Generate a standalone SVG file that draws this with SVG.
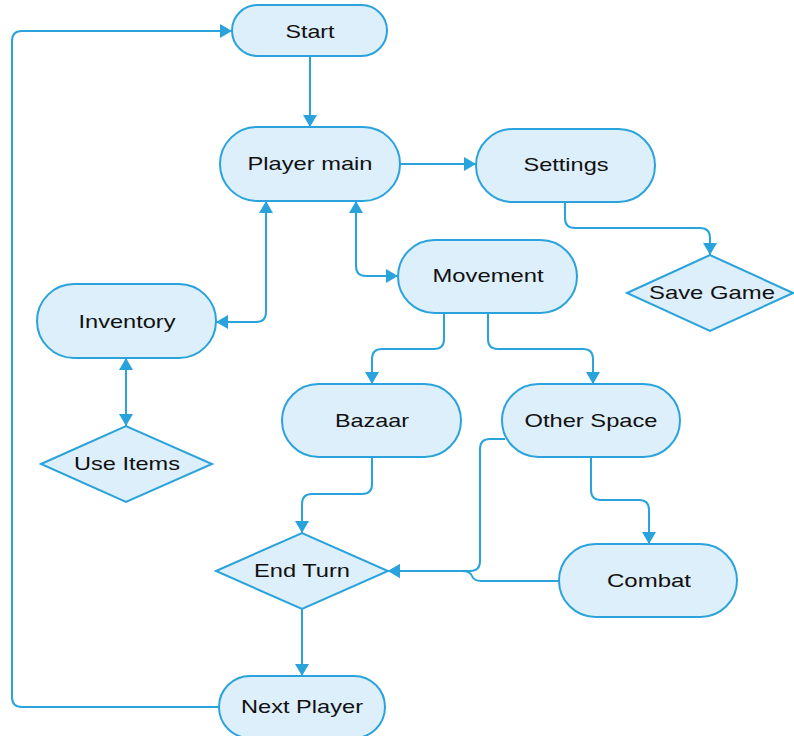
<svg xmlns="http://www.w3.org/2000/svg" width="794" height="736" viewBox="0 0 794 736">
  <style>
    .node { fill: #ddeffa; stroke: #2aa3dc; stroke-width: 2; }
    .edge { fill: none; stroke: #2aa3dc; stroke-width: 2; }
    .label { font-family: "Liberation Sans", Arial, sans-serif; font-size: 19px; fill: #111; text-anchor: middle; }
  </style>
  <defs>
    <marker id="arrow" viewBox="0 0 12 14" refX="12" refY="7" markerWidth="12" markerHeight="14" markerUnits="userSpaceOnUse" orient="auto-start-reverse">
      <path d="M0,0 L12,7 L0,14 z" fill="#2aa3dc"/>
    </marker>
  </defs>
  <rect width="794" height="736" fill="#ffffff"/>

  <g id="connectors">
    <path class="edge" d="M310,56 V127" marker-end="url(#arrow)"/>
    <path class="edge" d="M400,164 H476" marker-end="url(#arrow)"/>
    <path class="edge" d="M565,202 V218 Q565,228 575,228 H700 Q710,228 710,238 V255" marker-end="url(#arrow)"/>
    <path class="edge" d="M356,201 V266 Q356,276 366,276 H398" marker-start="url(#arrow)" marker-end="url(#arrow)"/>
    <path class="edge" d="M266,201 V312 Q266,322 256,322 H216" marker-start="url(#arrow)" marker-end="url(#arrow)"/>
    <path class="edge" d="M126,358 V426" marker-start="url(#arrow)" marker-end="url(#arrow)"/>
    <path class="edge" d="M444,313 V339 Q444,349 434,349 H382 Q372,349 372,359 V384" marker-end="url(#arrow)"/>
    <path class="edge" d="M488,313 V339 Q488,349 498,349 H583 Q593,349 593,359 V384" marker-end="url(#arrow)"/>
    <path class="edge" d="M372,457 V484 Q372,494 362,494 H312 Q302,494 302,504 V533" marker-end="url(#arrow)"/>
    <path class="edge" d="M505,439 H490 Q480,439 480,449 V561 Q480,571 470,571 H388" marker-end="url(#arrow)"/>
    <path class="edge" d="M591,457 V490 Q591,500 601,500 H639 Q649,500 649,510 V544" marker-end="url(#arrow)"/>
    <path class="edge" d="M559,581 H481 Q474,581 472,576 Q470,571 462,571 H388" marker-end="url(#arrow)"/>
    <path class="edge" d="M302,609 V676" marker-end="url(#arrow)"/>
    <path class="edge" d="M219,707 H22 Q12,707 12,697 V41 Q12,31 22,31 H232" marker-end="url(#arrow)"/>
  </g>

  <g id="start">
    <rect class="node" x="232" y="5" width="155" height="51" rx="25.5"/>
    <text class="label" x="310" y="38" textLength="49" lengthAdjust="spacingAndGlyphs">Start</text>
  </g>
  <g id="player-main">
    <rect class="node" x="220" y="127" width="180" height="74" rx="37"/>
    <text class="label" x="310" y="170" textLength="125" lengthAdjust="spacingAndGlyphs">Player main</text>
  </g>
  <g id="settings">
    <rect class="node" x="476" y="129" width="179" height="73" rx="36.5"/>
    <text class="label" x="566" y="171" textLength="85" lengthAdjust="spacingAndGlyphs">Settings</text>
  </g>
  <g id="save-game">
    <polygon class="node" points="627,293 710,255 793,293 710,331"/>
    <text class="label" x="712" y="299" textLength="126" lengthAdjust="spacingAndGlyphs">Save Game</text>
  </g>
  <g id="movement">
    <rect class="node" x="398" y="240" width="179" height="73" rx="36.5"/>
    <text class="label" x="488" y="282" textLength="111" lengthAdjust="spacingAndGlyphs">Movement</text>
  </g>
  <g id="inventory">
    <rect class="node" x="37" y="284" width="179" height="74" rx="37"/>
    <text class="label" x="127" y="328" textLength="97" lengthAdjust="spacingAndGlyphs">Inventory</text>
  </g>
  <g id="use-items">
    <polygon class="node" points="41,464 126,426 212,464 126,502"/>
    <text class="label" x="127" y="470" textLength="106" lengthAdjust="spacingAndGlyphs">Use Items</text>
  </g>
  <g id="bazaar">
    <rect class="node" x="282" y="384" width="179" height="73" rx="36.5"/>
    <text class="label" x="372" y="427" textLength="74" lengthAdjust="spacingAndGlyphs">Bazaar</text>
  </g>
  <g id="other-space">
    <rect class="node" x="502" y="384" width="178" height="73" rx="36.5"/>
    <text class="label" x="591" y="427" textLength="133" lengthAdjust="spacingAndGlyphs">Other Space</text>
  </g>
  <g id="end-turn">
    <polygon class="node" points="216,571 302,533 388,571 302,609"/>
    <text class="label" x="302" y="577" textLength="96" lengthAdjust="spacingAndGlyphs">End Turn</text>
  </g>
  <g id="combat">
    <rect class="node" x="559" y="544" width="178" height="73" rx="36.5"/>
    <text class="label" x="649" y="587" textLength="84" lengthAdjust="spacingAndGlyphs">Combat</text>
  </g>
  <g id="next-player">
    <rect class="node" x="219" y="676" width="166" height="62" rx="31"/>
    <text class="label" x="302" y="713" textLength="122" lengthAdjust="spacingAndGlyphs">Next Player</text>
  </g>
</svg>
